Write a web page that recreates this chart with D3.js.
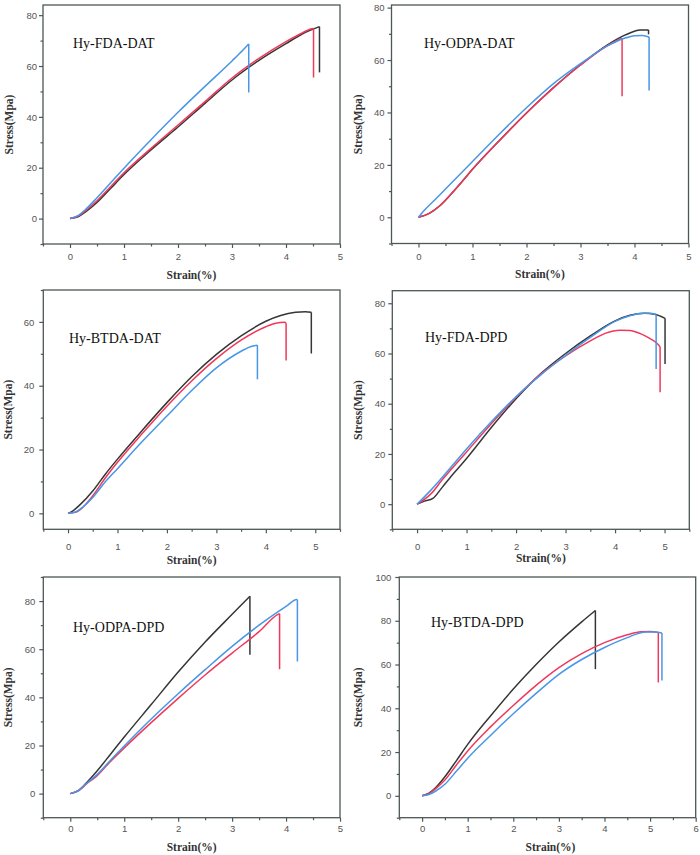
<!DOCTYPE html>
<html><head><meta charset="utf-8">
<script src="https://cdn.jsdelivr.net/npm/d3@7"></script>
<style>body{margin:0;background:#fff}</style></head>
<body>
<svg id="c" width="700" height="855"></svg>
<script>
// ---------- DATA ----------
const panelTitles = ["Hy-FDA-DAT", "Hy-ODPA-DAT", "Hy-BTDA-DAT", "Hy-FDA-DPD", "Hy-ODPA-DPD", "Hy-BTDA-DPD"];
const xAxisTitle = "Strain(%)";
const yAxisTitle = "Stress(Mpa)";
const xDomains = [[-0.5, 5], [-0.5, 5], [-0.5, 5.5], [-0.5, 5.5], [-0.5, 5], [-0.5, 6]];
const yDomains = [[-10, 84], [-10, 81], [-5, 70], [-10, 85], [-10, 90], [-10, 100]];
const xTickValues = [[0,1,2,3,4,5],[0,1,2,3,4,5],[0,1,2,3,4,5],[0,1,2,3,4,5],[0,1,2,3,4,5],[0,1,2,3,4,5,6]];
const yTickValues = [[0,20,40,60,80],[0,20,40,60,80],[0,20,40,60],[0,20,40,60,80],[0,20,40,60,80],[0,20,40,60,80,100]];
const seriesKeys = ["black", "red", "blue"];

// each series: [strain, stress] points; the last point is the stress after fracture (vertical drop)
const fdaDat = {
  black: [[0,0],[0.15,0.7],[0.3,2.8],[0.5,6.3],[0.75,11.8],[1,17.3],[1.5,27],[2,36],[2.5,45.3],[3,54.5],[3.5,62.2],[4,68.8],[4.3,72.6],[4.62,75.5],[4.62,57.5]],
  red:   [[0,0],[0.15,1],[0.3,3.3],[0.5,7],[0.75,12.5],[1,18],[1.5,27.6],[2,36.8],[2.5,46],[3,55.3],[3.5,63],[4,69.6],[4.3,73],[4.5,74.8],[4.51,74.8],[4.51,55.5]],
  blue:  [[0,0],[0.15,1.2],[0.3,3.8],[0.5,8.2],[0.75,14],[1,19.8],[1.5,31],[2,41.8],[2.5,52],[3,62],[3.2,66.2],[3.31,68.7],[3.31,49.6]]
};
const odpaDat = {
  black: [[0,0],[0.2,1.5],[0.4,4.5],[0.6,8.8],[0.8,13.5],[1,18.3],[1.5,29.3],[2,39.8],[2.5,49.5],[3,58.2],[3.5,65.8],[3.8,69.3],[4,71],[4.1,71.5],[4.26,71.5],[4.26,69.8]],
  red:   [[0,0],[0.2,1.5],[0.4,4.5],[0.6,8.8],[0.8,13.5],[1,18.3],[1.5,29.3],[2,39.8],[2.5,49.4],[3,58.1],[3.5,65.5],[3.77,68.3],[3.77,46.2]],
  blue:  [[0,0],[0.1,2.5],[0.3,6.6],[0.5,10.8],[1,21.3],[1.5,31.8],[2,41.8],[2.5,51],[3,58.6],[3.5,65.4],[3.8,68.2],[4,69.3],[4.15,69.4],[4.27,68.8],[4.27,48.4]]
};
const btdaDat = {
  black: [[0,0],[0.1,0.8],[0.25,2.8],[0.5,7],[0.75,12.2],[1,17],[1.5,26],[2,34.7],[2.5,42.8],[3,49.8],[3.5,55.6],[4,60.2],[4.3,62],[4.6,63],[4.8,63.2],[4.92,63],[4.92,50.1]],
  red:   [[0,0],[0.15,0.3],[0.25,1.2],[0.5,5.5],[0.75,11],[1,16],[1.5,25],[2,33.6],[2.5,41.5],[3,48.5],[3.5,54.3],[4,58.5],[4.2,59.6],[4.38,59.9],[4.41,59.6],[4.41,47.9]],
  blue:  [[0,0],[0.15,0.4],[0.3,2],[0.5,5],[0.75,9.8],[1,14],[1.5,22.5],[2,30.5],[2.5,38.5],[3,45.6],[3.5,50.8],[3.7,52.3],[3.83,52.7],[3.83,42]]
};
const fdaDpd = {
  black: [[0,0],[0.15,1.2],[0.32,2.3],[0.5,6.5],[0.75,12.5],[1,18.2],[1.5,30.5],[2,42],[2.5,52],[3,60],[3.5,67],[4,73],[4.3,75.2],[4.6,76],[4.8,75.6],[5.01,74],[5.01,55.8]],
  red:   [[0,0],[0.3,4.5],[0.5,9.5],[1,20.8],[1.5,32],[2,42.6],[2.5,51.8],[3,59],[3.5,65],[3.8,68],[4.1,69.3],[4.3,69.2],[4.5,68],[4.7,66],[4.85,64],[4.91,62.7],[4.91,44.6]],
  blue:  [[0,0],[0.25,5],[0.5,10.5],[1,22],[1.5,32.8],[2,42.8],[2.5,51.5],[3,59.2],[3.5,66.4],[4,72.8],[4.3,75],[4.55,76],[4.7,76],[4.83,75.5],[4.83,53.8]]
};
const odpaDpd = {
  black: [[0,0],[0.15,1.3],[0.3,4.5],[0.5,9.5],[0.75,16.5],[1,23.5],[1.5,37],[2,50.5],[2.5,63],[3,74.5],[3.33,82],[3.33,57.7]],
  red:   [[0,0],[0.15,1.2],[0.3,4],[0.5,7.5],[0.75,13.5],[1,19],[1.5,29.5],[2,39.6],[2.5,49.3],[3,58.4],[3.5,67.3],[3.85,74.5],[3.88,74.8],[3.88,51.7]],
  blue:  [[0,0],[0.15,1.2],[0.3,4.2],[0.5,8],[0.75,14],[1,19.8],[1.5,31],[2,41.5],[2.5,51.5],[3,61.2],[3.5,70],[4,77.8],[4.2,80.7],[4.21,80.5],[4.21,54.9]]
};
const btdaDpd = {
  black: [[0,0],[0.15,1.2],[0.3,3.8],[0.5,8.7],[0.75,16],[1,23.5],[1.5,36.5],[2,48.8],[2.5,60],[3,70.3],[3.5,79.5],[3.8,84.7],[3.8,57.9]],
  red:   [[0,0],[0.15,1],[0.3,3.3],[0.5,7.2],[0.75,14],[1,20.5],[1.5,31.5],[2,41.3],[2.5,50.5],[3,58.6],[3.5,65],[4,70],[4.5,73.6],[4.8,75],[5,75.1],[5.18,74.6],[5.18,51.8]],
  blue:  [[0,0],[0.15,0.6],[0.3,2.2],[0.5,5.3],[0.75,11.2],[1,17.2],[1.5,27.6],[2,37.5],[2.5,46.8],[3,55.5],[3.5,62.3],[4,67.8],[4.5,72.3],[4.9,74.9],[5.1,74.9],[5.26,74.4],[5.26,52.7]]
};
const panelSeries = [fdaDat, odpaDat, btdaDat, fdaDpd, odpaDpd, btdaDpd];

// ---------- LAYOUT / STYLE ----------
const layout = [
  {l:43,  r:340,   t:5,    b:244,   xLab:13,   xTitle:31, yLabGap:6,  yTitleX:9,   titleX:73,  titleY:43},
  {l:391.5, r:688.5, t:5,  b:243.5, xLab:13,   xTitle:30, yLabGap:7,  yTitleX:358, titleX:424, titleY:43},
  {l:43.3, r:340,  t:290,  b:529.3, xLab:17.4, xTitle:31, yLabGap:9,  yTitleX:8,   titleX:69,  titleY:338},
  {l:392.3, r:689.3, t:290.7, b:529.3, xLab:17.4, xTitle:29, yLabGap:7, yTitleX:358, titleX:425, titleY:337},
  {l:43.3, r:340,  t:577,  b:817.7, xLab:11,   xTitle:29, yLabGap:8,  yTitleX:8,   titleX:73,  titleY:627},
  {l:399.3, r:695.7, t:577, b:817.7, xLab:11,   xTitle:29, yLabGap:8,  yTitleX:358, titleX:431, titleY:622}
];
const colors = {black: "#363636", red: "#f0385a", blue: "#4896e6"};
const frameColor = "#4e5656";

const svg = d3.select("#c");

panelSeries.forEach((series, i) => {
  const L = layout[i];
  const x = d3.scaleLinear().domain(xDomains[i]).range([L.l, L.r]);
  const y = d3.scaleLinear().domain(yDomains[i]).range([L.b, L.t]);
  const g = svg.append("g");

  // minor ticks
  const xMinor = d3.range(Math.ceil(xDomains[i][0]*2)/2, xDomains[i][1]+0.001, 0.5).filter(v => !xTickValues[i].includes(v));
  const yMinor = d3.range(Math.ceil(yDomains[i][0]/10)*10, yDomains[i][1]+0.001, 10).filter(v => !yTickValues[i].includes(v));

  const xMinAx = g.append("g").attr("transform", `translate(0,${L.b})`)
    .call(d3.axisBottom(x).tickValues(xMinor).tickSize(2.5).tickFormat(""));
  const yMinAx = g.append("g").attr("transform", `translate(${L.l},0)`)
    .call(d3.axisLeft(y).tickValues(yMinor).tickSize(2.5).tickFormat(""));

  const xAx = g.append("g").attr("transform", `translate(0,${L.b})`)
    .call(d3.axisBottom(x).tickValues(xTickValues[i]).tickSize(4).tickFormat(d3.format("d")));
  const yAx = g.append("g").attr("transform", `translate(${L.l},0)`)
    .call(d3.axisLeft(y).tickValues(yTickValues[i]).tickSize(4).tickFormat(d3.format("d")));

  [xMinAx, yMinAx, xAx, yAx].forEach(a => {
    a.select(".domain").remove();
    a.selectAll("line").attr("stroke", frameColor).attr("stroke-width", 1.2);
  });
  xAx.selectAll("text").attr("y", L.xLab).attr("dy", "0.35em")
    .attr("font-family", "'Liberation Sans', Arial, sans-serif").attr("font-size", 9.5).attr("fill", "#555");
  yAx.selectAll("text").attr("x", -L.yLabGap).attr("dy", "0.33em")
    .attr("font-family", "'Liberation Sans', Arial, sans-serif").attr("font-size", 9.5).attr("fill", "#555");

  // frame
  g.append("rect").attr("x", L.l).attr("y", L.t).attr("width", L.r - L.l).attr("height", L.b - L.t)
    .attr("fill", "none").attr("stroke", frameColor).attr("stroke-width", 1.3);

  // curves
  const line = d3.line().x(d => x(d[0])).y(d => y(d[1])).curve(d3.curveMonotoneX);
  const drop = d3.line().x(d => x(d[0])).y(d => y(d[1]));
  seriesKeys.forEach(k => {
    const pts = series[k];
    g.append("path").attr("d", line(pts.slice(0, -1)))
      .attr("fill", "none").attr("stroke", colors[k]).attr("stroke-width", 1.5).attr("stroke-linejoin", "round");
    g.append("path").attr("d", drop(pts.slice(-2)))
      .attr("fill", "none").attr("stroke", colors[k]).attr("stroke-width", 1.5);
  });

  // panel title
  g.append("text").attr("x", L.titleX).attr("y", L.titleY).attr("dy", "0.35em")
    .attr("font-family", "'Liberation Serif', 'Times New Roman', serif").attr("font-size", 14)
    .attr("fill", "#111").text(panelTitles[i]);

  // axis titles
  g.append("text").attr("x", (L.l + L.r) / 2 + (i === 5 ? 3 : 0)).attr("y", L.b + L.xTitle).attr("dy", "0.35em")
    .attr("text-anchor", "middle").attr("font-family", "'Liberation Serif', 'Times New Roman', serif")
    .attr("font-size", 11.5).attr("font-weight", "bold").attr("fill", "#333").text(xAxisTitle);
  g.append("text").attr("transform", `translate(${L.yTitleX},${(L.t + L.b) / 2})rotate(-90)`).attr("dy", "0.35em")
    .attr("text-anchor", "middle").attr("font-family", "'Liberation Serif', 'Times New Roman', serif")
    .attr("font-size", 11.5).attr("font-weight", "bold").attr("fill", "#333").text(yAxisTitle);
});
</script>
</body></html>
